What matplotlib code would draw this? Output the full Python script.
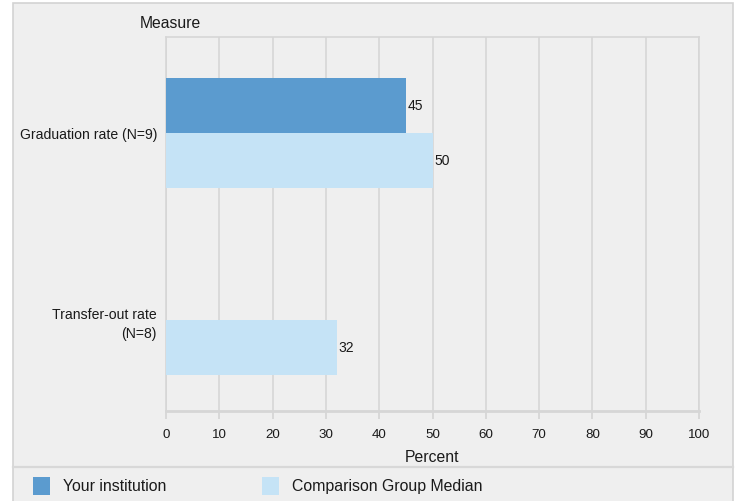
import matplotlib
matplotlib.use("Agg")
import matplotlib.pyplot as plt
from matplotlib.patches import Rectangle
from matplotlib.lines import Line2D
import numpy as np

plt.rcParams['font.family'] = ['Liberation Sans', 'DejaVu Sans']

categories = ["Graduation rate (N=9)", "Transfer-out rate\n(N=8)"]
institution = [45, None]
comparison = [50, 32]
series_names = ["Your institution", "Comparison Group Median"]
xticks = [0, 10, 20, 30, 40, 50, 60, 70, 80, 90, 100]

C_INST = "#5b9bcf"
C_COMP = "#c5e3f6"
BG = "#efefef"
GRID = "#d6d6d6"
BORDER = "#d3d3d3"
TXT = "#1a1a1a"

W, H = 737, 502
fig = plt.figure(figsize=(W / 100, H / 100), dpi=100)
fig.patch.set_facecolor("white")

# outer panel
fig.add_artist(Rectangle((13 / W, -0.01), (733 - 13) / W, (H - 4) / H + 0.01,
                         transform=fig.transFigure, facecolor=BG,
                         edgecolor=BORDER, linewidth=1.2, zorder=0))
# separator line above legend
fig.add_artist(Line2D([13 / W, 733 / W], [(H - 468) / H] * 2,
                      transform=fig.transFigure, color="#d8d8d8", linewidth=1.6))

ax = fig.add_axes([166 / W, (H - 412) / H, (699 - 166) / W, (412 - 38) / H])
ax.set_facecolor(BG)

y = np.arange(len(categories))
h = 0.294
inst_vals = [v if v is not None else 0 for v in institution]
b1 = ax.barh(y - h / 2, inst_vals, height=h, color=C_INST, zorder=3)
b2 = ax.barh(y + h / 2, comparison, height=h, color=C_COMP, zorder=3)

for rect, v in zip(b1, institution):
    if v is not None:
        ax.text(rect.get_width() + 0.4, rect.get_y() + rect.get_height() / 2,
                f"{v}", va="center", ha="left", fontsize=10, color=TXT, zorder=4)
for rect, v in zip(b2, comparison):
    ax.text(rect.get_width() + 0.4, rect.get_y() + rect.get_height() / 2,
            f"{v}", va="center", ha="left", fontsize=10, color=TXT, zorder=4)

ax.set_xlim(0, 100)
ax.set_ylim(1.487, -0.513)
ax.set_xticks(xticks)
ax.set_xticklabels([str(t) for t in xticks])
ax.set_yticks(y)
ax.set_yticklabels(categories, ha="right", linespacing=1.4)
ax.tick_params(axis="y", length=0, pad=6.5, labelsize=10.1, labelcolor=TXT)
ax.tick_params(axis="x", length=6, width=1.3, color=GRID, pad=6.5, labelsize=9.6,
               labelcolor=TXT)
ax.xaxis.grid(True, color=GRID, linewidth=1.2, zorder=0)
ax.set_axisbelow(True)
for s in ["top", "right", "left"]:
    ax.spines[s].set_color(GRID)
    ax.spines[s].set_linewidth(1.2)
ax.spines["bottom"].set_color(GRID)
ax.spines["bottom"].set_linewidth(2)

ax.set_xlabel("Percent", fontsize=11.3, color=TXT, labelpad=6.5)
fig.text(170 / W, (H - 23) / H, "Measure", ha="center", va="center",
         fontsize=11.3, color=TXT)

# legend
for x0, col, name, tx in [(33, C_INST, series_names[0], 63),
                          (262, C_COMP, series_names[1], 292)]:
    fig.add_artist(Rectangle((x0 / W, (H - 496) / H), 17 / W, 18 / H,
                             transform=fig.transFigure, facecolor=col,
                             edgecolor="none"))
    fig.text(tx / W, (H - 487) / H, name, ha="left", va="center",
             fontsize=11.4, color=TXT)

fig.savefig("out.png", dpi=100, facecolor=fig.get_facecolor())
